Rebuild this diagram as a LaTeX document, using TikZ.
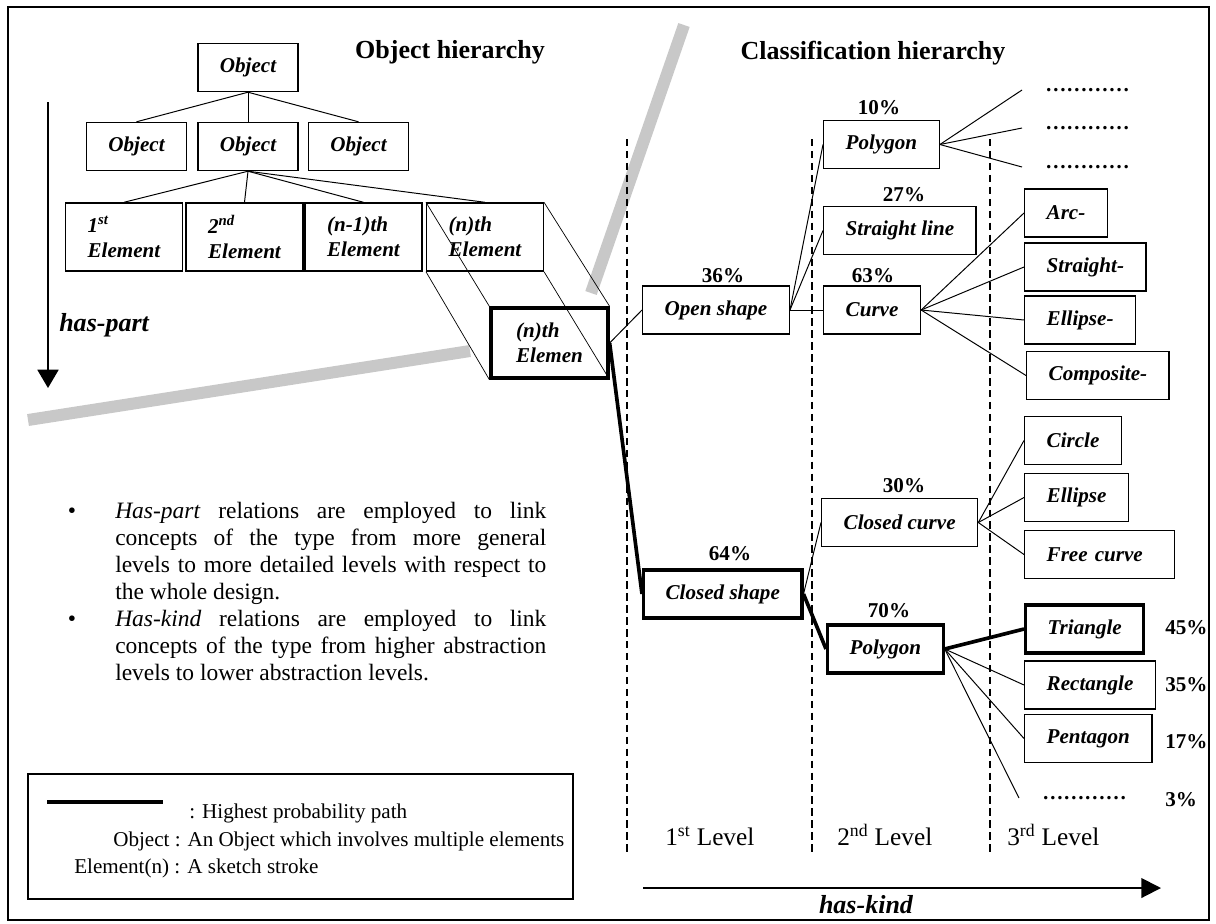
\documentclass[tikz,border=0pt]{standalone}
\usepackage{fontspec}
\setmainfont{Liberation Serif}
\usepackage{tikz}
\usetikzlibrary{arrows.meta,positioning}
\definecolor{band}{RGB}{200,200,200}
\hyphenpenalty=10000

\begin{document}
\begin{tikzpicture}[x=0.025cm, y=-0.025cm,
  nbox/.style={draw, line width=1pt, inner xsep=0.55cm, inner ysep=0pt, minimum height=1.2cm,
    font=\fontsize{15}{17.8}\selectfont\bfseries\itshape},
  thickbox/.style={line width=2.3pt},
  elbox/.style={nbox, minimum height=1.7cm, align=left},
  leaf/.style={nbox, anchor=west},
  pct/.style={inner sep=0pt, font=\fontsize{15}{17}\selectfont\bfseries},
  dots/.style={pct, anchor=west, inner xsep=0.575cm},
  link/.style={line width=0.7pt},
  best/.style={line width=2.6pt},
  lvl/.style={dash pattern=on 5.3pt off 3.2pt, line width=0.9pt},
  title/.style={inner sep=0pt, anchor=base, font=\fontsize{18.5}{22}\selectfont\bfseries},
  rel/.style={inner sep=0pt, font=\fontsize{18.5}{22}\selectfont\bfseries\itshape},
  body/.style={inner sep=0pt, anchor=north west, text width=10.775cm, align=justify,
    font=\fontsize{16.7}{19.2}\selectfont},
  leg/.style={inner sep=0pt, anchor=base west, font=\fontsize{15}{18}\selectfont}]
\useasboundingbox (0,0) rectangle (1216,923);
% frame
\draw[line width=1pt] (8,7) rectangle (1209,920);
% gray bands
\draw[band, line width=0.3cm] (28,420) -- (470,351);
\draw[band, line width=0.3cm] (591,293) -- (684,25);
% titles
\node[title] (tobj) at (450,58) {Object hierarchy};
\node[title] (tcls) at (873,59) {Classification hierarchy};
% object hierarchy
\node[nbox] (obj0) at (248,67.5) {Object};
\node[nbox] (obj1) at (136.5,146.5) {Object};
\node[nbox] (obj2) at (248,146.5) {Object};
\node[nbox] (obj3) at (358.5,146.5) {Object};
\node[elbox] (el1) at (124,237) {1\textsuperscript{st}\\Element};
\node[elbox] (el2) at (244.5,237) {2\textsuperscript{nd}\\Element};
\node[elbox] (el3) at (363.5,237) {(n-1)th\\Element};
\node[elbox] (el4) at (485,237) {(n)th\\Element};
\node[elbox, thickbox, minimum width=2.925cm, minimum height=1.75cm] (elN) at (549.5,343) {(n)th\\Elemen};
\foreach \o in {obj1,obj2,obj3} \draw[link] (obj0.south) -- (\o.north);
\foreach \e in {el1,el2,el3,el4} \draw[link] (obj2.south) -- (\e.north);
% projection of the (n)th element
\foreach \c in {north west,north east,south west,south east}
  \draw[line width=0.5pt] (el4.\c) -- (elN.\c);
% has-part arrow
\coordinate (hp1) at (48,102);
\coordinate (hp2) at (48,388);
\draw[line width=1.1pt, -{Triangle[length=13pt,width=15pt]}] (hp1) -- (hp2);
\node[rel, anchor=west] (hpart) at (59,325) {has-part};
% levels
\foreach \x in {627,812,990} \draw[lvl] (\x,139) -- (\x,853);
\node[leg, anchor=base west, font=\fontsize{18}{21}\selectfont] (lv1) at (665,845) {1\textsuperscript{st} Level};
\node[leg, anchor=base west, font=\fontsize{18}{21}\selectfont] (lv2) at (837,845) {2\textsuperscript{nd} Level};
\node[leg, anchor=base west, font=\fontsize{18}{21}\selectfont] (lv3) at (1007,845) {3\textsuperscript{rd} Level};
% classification hierarchy
\node[nbox, anchor=west] (open) at (642,310) {Open shape};
\node[nbox, thickbox, anchor=west] (closed) at (642,594) {Closed shape};
\node[nbox, anchor=west] (poly) at (823,144.5) {Polygon};
\node[nbox, anchor=west] (sline) at (823,230.5) {Straight line};
\node[nbox, anchor=west] (curve) at (823,310) {Curve};
\node[nbox, anchor=west] (ccurve) at (821,522.5) {Closed curve};
\node[nbox, thickbox, anchor=west] (poly2) at (826,649) {Polygon};
\node[leaf] (arc) at (1024,213) {Arc-};
\node[leaf] (strt) at (1024,267) {Straight-};
\node[leaf] (ell1) at (1024,320) {Ellipse-};
\node[leaf] (comp) at (1026,375.5) {Composite-};
\node[leaf] (circ) at (1024,440.5) {Circle};
\node[leaf] (ell2) at (1024,497.5) {Ellipse};
\node[leaf, text width=2.65cm, align=left] (free) at (1024,554.5) {Free curve};
\node[leaf, thickbox] (tri) at (1024,629) {Triangle};
\node[leaf] (rect) at (1024,685) {Rectangle};
\node[leaf] (pent) at (1024,738.5) {Pentagon};
\node[dots] (d1) at (1022,90) {…………};
\node[dots] (d2) at (1022,128) {…………};
\node[dots] (d3) at (1022,167) {…………};
\node[dots] (d4) at (1019,798) {…………};
% percentages
\node[pct] (p10) at (879,108) {10\%};
\node[pct] (p27) at (904,195) {27\%};
\node[pct] (p36) at (723,276) {36\%};
\node[pct] (p63) at (873,276) {63\%};
\node[pct] (p30) at (904,486) {30\%};
\node[pct] (p64) at (730,554) {64\%};
\node[pct] (p70) at (889,611) {70\%};
\node[pct, anchor=west] (p45) at (1165,628) {45\%};
\node[pct, anchor=west] (p35) at (1165,685) {35\%};
\node[pct, anchor=west] (p17) at (1165,742) {17\%};
\node[pct, anchor=west] (p3) at (1165,800) {3\%};
% links
\draw[link] (elN.east) -- (open.west);
\draw[best] (elN.east) -- (closed.west);
\foreach \n in {poly,sline,curve} \draw[link] (open.east) -- (\n.west);
\foreach \n in {d1,d2,d3} \draw[link] (poly.east) -- (\n.west);
\foreach \n in {arc,strt,ell1,comp} \draw[link] (curve.east) -- (\n.west);
\draw[link] (closed.east) -- (ccurve.west);
\draw[best] (closed.east) -- (poly2.west);
\foreach \n in {circ,ell2,free} \draw[link] (ccurve.east) -- (\n.west);
\draw[best] (poly2.east) -- (tri.west);
\foreach \n in {rect,pent,d4} \draw[link] (poly2.east) -- (\n.west);
% has-kind arrow
\coordinate (hk1) at (643,888);
\coordinate (hk2) at (1161,888);
\draw[line width=1.4pt, -{Triangle[length=14pt,width=14pt]}] (hk1) -- (hk2);
\node[rel, anchor=base] (hkind) at (866,913) {has-kind};
% notes
\node[inner sep=0pt, font=\fontsize{16.7}{19.2}\selectfont] (b1) at (72,513) {\textbullet};
\node[inner sep=0pt, font=\fontsize{16.7}{19.2}\selectfont] (b2) at (72,621) {\textbullet};
\node[body] (txt1) at (115,502) {\textit{Has-part} relations are employed to link\linebreak
  concepts of the type from more general\linebreak
  levels to more detailed levels with respect to\linebreak
  the whole design.};
\node[body] (txt2) at (115,610) {\textit{Has-kind} relations are employed to link\linebreak
  concepts of the type from higher abstraction\linebreak
  levels to lower abstraction levels.};
% legend
\draw[line width=1pt] (28,774) rectangle (573,899);
\coordinate (k1) at (47,802);
\coordinate (k2) at (163,802);
\draw[line width=2.8pt] (k1) -- (k2);
\node[leg] (k3) at (189,818) {: Highest probability path};
\node[leg] (k4) at (113,846) {Object : An Object which involves multiple elements};
\node[leg] (k5) at (74,873) {Element(n) : A sketch stroke};
\end{tikzpicture}
\end{document}
